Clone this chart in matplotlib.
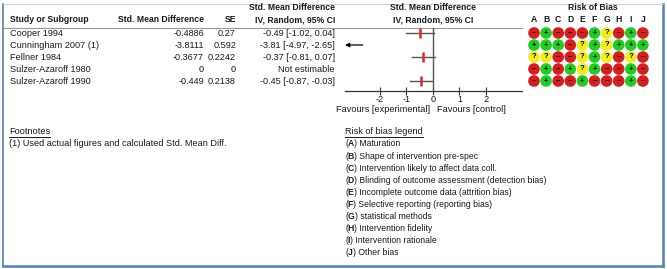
import matplotlib
matplotlib.use("Agg")
import matplotlib.pyplot as plt

plt.rcParams['font.family'] = ['Liberation Sans', 'DejaVu Sans']

# ---------------- data ----------------
studies = ["Cooper 1994", "Cunningham 2007 (1)", "Fellner 1984",
           "Sulzer-Azaroff 1980", "Sulzer-Azaroff 1990"]
smd_txt = ["-0.4886", "-3.8111", "-0.3677", "0", "-0.449"]
se_txt = ["0.27", "0.592", "0.2242", "0", "0.2138"]
ci_txt = ["-0.49 [-1.02, 0.04]", "-3.81 [-4.97, -2.65]", "-0.37 [-0.81, 0.07]",
          "Not estimable", "-0.45 [-0.87, -0.03]"]
est = [-0.49, -3.81, -0.37, None, -0.45]
lo = [-1.02, -4.97, -0.81, None, -0.87]
hi = [0.04, -2.65, 0.07, None, -0.03]
ticks = [-2, -1, 0, 1, 2]
rob_cols = list("ABCDEFGHIJ")
rob = [
    "-+---+?-+-",
    "+++-?+?+++",
    "??--?+?-?-",
    "-+-+?+--+-",
    "-+--+---+-",
]
footnote = "(1) Used actual figures and calculated Std. Mean Diff."
legend_letters = list("ABCDEFGHIJ")
legend_desc = ["Maturation", "Shape of intervention pre-spec",
               "Intervention likely to affect data coll.",
               "Blinding of outcome assessment (detection bias)",
               "Incomplete outcome data (attrition bias)",
               "Selective reporting (reporting bias)",
               "statistical methods", "Intervention fidelity",
               "Intervention rationale", "Other bias"]

W, H = 667, 269
FS = 6.6
FSB = 6.2
FSL = 6.2
TC = '#1a1a1a'
fig = plt.figure(figsize=(W / 100, H / 100), dpi=100)

bg = fig.add_axes([0, 0, 1, 1])
bg.set_xlim(0, W)
bg.set_ylim(H, 0)
bg.axis('off')

def pax(x0, y0, x1, y1):
    return fig.add_axes([x0 / W, 1 - y1 / H, (x1 - x0) / W, (y1 - y0) / H])

# border
BC = '#4f81bd'
bg.plot([2.5, 2.5], [3.5, 266], color=BC, lw=1.2)
bg.plot([662.5, 662.5], [3.5, 266], color=BC, lw=1.8)
bg.plot([2.5, 662.5], [266, 266], color=BC, lw=1.8)
bg.plot([2.5, 662.5], [3.5, 3.5], color='#b8cce6', lw=0.6)
bg.plot([3, 522], [28, 28], color='#9a9a9a', lw=0.8)

# headers
hb = dict(fontsize=FSB, fontweight='bold', color=TC, va='center')
bg.text(10, 20, "Study or Subgroup", ha='left', **hb)
bg.text(204, 20, "Std. Mean Difference", ha='right', **hb)
bg.text(236, 20, "SE", ha='right', **hb)
bg.text(335, 7.5, "Std. Mean Difference", ha='right', **hb)
bg.text(335, 20, "IV, Random, 95% CI", ha='right', **hb)
bg.text(433, 7.5, "Std. Mean Difference", ha='center', **hb)
bg.text(433, 20, "IV, Random, 95% CI", ha='center', **hb)
bg.text(593, 7.5, "Risk of Bias", ha='center', **hb)

row_y0, row_dy = 33, 12.0
for i in range(len(studies)):
    y = row_y0 + row_dy * i
    kw = dict(fontsize=FS, color=TC, va='center')
    bg.text(10, y, studies[i], ha='left', **kw)
    bg.text(204, y, smd_txt[i], ha='right', **kw)
    bg.text(236, y, se_txt[i], ha='right', **kw)
    bg.text(335, y, ci_txt[i], ha='right', **kw)

# forest plot
xl, xr = -3.32, 3.36
fx = pax(345, 28, 522, 91)
fx.set_xlim(xl, xr)
fx.set_ylim((91 - row_y0) / row_dy, (28 - row_y0) / row_dy)
fx.patch.set_visible(False)
for s in ['top', 'left', 'right']:
    fx.spines[s].set_visible(False)
fx.spines['bottom'].set_color('#333333')
fx.spines['bottom'].set_linewidth(0.9)
fx.set_yticks([])
fx.set_xticks(ticks)
fx.set_xticklabels([str(t) for t in ticks])
fx.tick_params(axis='x', direction='inout', length=6, width=0.8, color='#333333',
               labelsize=FS, labelcolor=TC, pad=0)
fx.axvline(0, color='#555555', lw=1.0)
for i in range(len(studies)):
    if est[i] is None:
        continue
    if lo[i] < xl:
        fx.annotate("", xy=(xl, i), xytext=(hi[i], i),
                    arrowprops=dict(arrowstyle='-|>', color='black', lw=0.9,
                                    mutation_scale=6, shrinkA=0, shrinkB=0))
    else:
        fx.plot([lo[i], hi[i]], [i, i], color='#555555', lw=1.0)
        fx.plot([est[i]], [i], marker='|', ms=6.5, mew=1.8, color='#e02424')

bg.text(430, 110, "Favours [experimental]", ha='right', va='center', fontsize=FS, color=TC)
bg.text(437, 110, "Favours [control]", ha='left', va='center', fontsize=FS, color=TC)

# risk of bias
col_x0, col_dx = 534, 12.1
rx = pax(col_x0 - col_dx / 2, row_y0 - row_dy / 2,
         col_x0 + col_dx * 9.5, row_y0 + row_dy * 4.5)
rx.set_xlim(-0.5, 9.5)
rx.set_ylim(4.5, -0.5)
rx.axis('off')
colors = {'-': '#d91c1c', '+': '#1fcf1f', '?': '#f2ee1e'}
syms = {'-': '\u2212', '+': '+', '?': '?'}
for j, c in enumerate(rob_cols):
    rx.text(j, (20 - row_y0) / row_dy, c, ha='center', va='center',
            fontsize=FSB, fontweight='bold', color=TC, clip_on=False)
for i, r in enumerate(rob):
    for j, v in enumerate(r):
        rx.scatter([j], [i], s=70, color=colors[v], edgecolors='none', clip_on=False)
        rx.text(j, i, syms[v], ha='center', va='center', fontsize=5.5,
                fontweight='bold', color='black')

# footnotes and legend
t1 = bg.text(9, 132, "Footnotes", ha='left', va='center', fontsize=FS, color=TC)
bg.text(9, 144, footnote, ha='left', va='center', fontsize=FS, color=TC)
t2 = bg.text(345, 132, "Risk of bias legend", ha='left', va='center', fontsize=FS, color=TC)

fig.canvas.draw()
inv = bg.transData.inverted()

def xend(t):
    bb = t.get_window_extent()
    return inv.transform([[bb.x1, bb.y0]])[0][0]

for k, (lt, desc) in enumerate(zip(legend_letters, legend_desc)):
    y = 144 + 12.1 * k
    a = bg.text(345, y, "(", ha='left', va='center', fontsize=FSL, color=TC)
    fig.canvas.draw()
    b = bg.text(xend(a), y, lt, ha='left', va='center', fontsize=FSL,
                fontweight='bold', color=TC)
    fig.canvas.draw()
    bg.text(xend(b), y, ") " + desc, ha='left', va='center', fontsize=FSL, color=TC)

fig.canvas.draw()
for t in (t1, t2):
    bb = t.get_window_extent()
    (xa, ya), (xb, yb) = inv.transform([[bb.x0, bb.y0], [bb.x1, bb.y1]])
    bg.plot([xa, xb], [ya + 0.5, ya + 0.5], color=TC, lw=0.7)

fig.savefig("out.png", dpi=100)
